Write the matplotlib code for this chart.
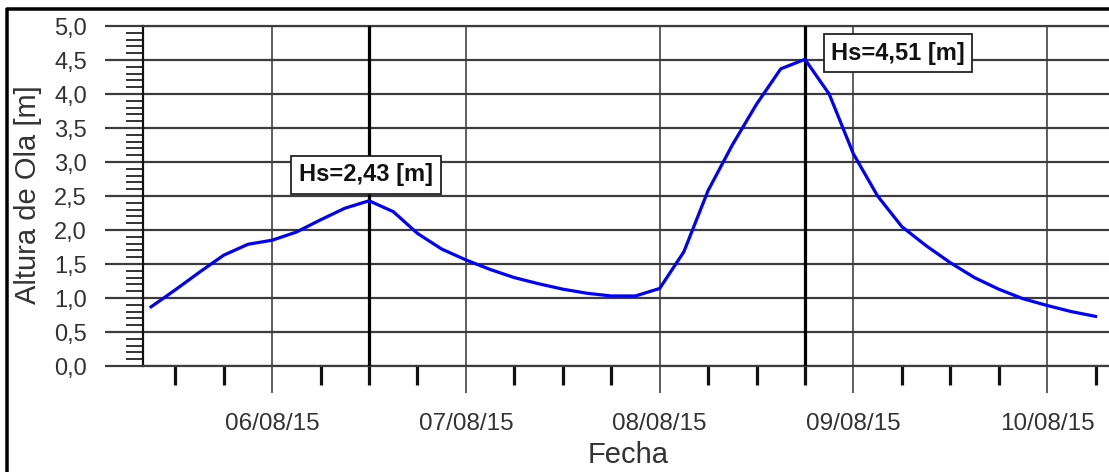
import numpy as np
import pandas as pd
import matplotlib
matplotlib.use("Agg")
import matplotlib.pyplot as plt
import matplotlib.dates as mdates
from matplotlib.lines import Line2D
from matplotlib.ticker import MultipleLocator, FuncFormatter

plt.rcParams['font.family'] = ['Liberation Sans', 'DejaVu Sans']

# ---- data ----
start_time = "2015-08-05 09:00"
step = "3h"
hs_values = [0.87, 1.12, 1.38, 1.63, 1.79, 1.85, 1.97, 2.15, 2.32, 2.43,
             2.27, 1.95, 1.72, 1.56, 1.42, 1.30, 1.21, 1.13, 1.07, 1.03,
             1.03, 1.14, 1.68, 2.58, 3.25, 3.85, 4.37, 4.51, 4.00, 3.12,
             2.50, 2.05, 1.77, 1.52, 1.30, 1.13, 0.99, 0.89, 0.80, 0.73]
peak_labels = ["Hs=2,43 [m]", "Hs=4,51 [m]"]
x_range = ["2015-08-05 08:00", "2015-08-10 07:40"]
y_ticks = [0.0, 0.5, 1.0, 1.5, 2.0, 2.5, 3.0, 3.5, 4.0, 4.5, 5.0]
x_label = "Fecha"
y_label = "Altura de Ola [m]"

times = pd.date_range(start=start_time, periods=len(hs_values), freq=step)
vals = np.array(hs_values)

W, H = 1109, 472
fig = plt.figure(figsize=(W / 100, H / 100), dpi=100)
px = lambda p: p * 72 / 100  # pixels -> points

ax_left, ax_right, ax_top, ax_bot = 143, 1109, 26, 366
ax = fig.add_axes([ax_left / W, 1 - ax_bot / H, (ax_right - ax_left) / W, (ax_bot - ax_top) / H])

grid_col = '#3c3c3c'
text_col = '#333333'

ax.plot(times, vals, color='#0000ff', lw=px(3.2), zorder=5, solid_joinstyle='round')

ax.set_xlim(pd.Timestamp(x_range[0]), pd.Timestamp(x_range[1]))
ax.set_ylim(y_ticks[0], y_ticks[-1])

# y axis
ax.set_yticks(y_ticks)
ax.yaxis.set_minor_locator(MultipleLocator(0.1))
ax.yaxis.set_major_formatter(FuncFormatter(lambda v, p: f"{v:.1f}".replace('.', ',')))
ax.tick_params(axis='y', which='major', length=px(38), width=px(2.2), color=grid_col,
               pad=px(18), labelsize=17, labelcolor=text_col)
ax.tick_params(axis='y', which='minor', length=px(17), width=px(1.8), color='#222222')

# x axis
ax.xaxis.set_major_locator(mdates.DayLocator())
ax.xaxis.set_major_formatter(mdates.DateFormatter('%d/%m/%y'))
ax.xaxis.set_minor_locator(mdates.HourLocator(byhour=[0, 6, 12, 18]))
ax.tick_params(axis='x', which='major', length=px(27), width=px(1.6), color=grid_col,
               pad=px(20), labelsize=17.5, labelcolor=text_col)
ax.tick_params(axis='x', which='minor', length=px(19), width=px(3.2), color='#111111')

# grid
ax.grid(True, axis='y', which='major', color=grid_col, lw=px(2.2), zorder=1)
ax.grid(True, axis='x', which='major', color=grid_col, lw=px(1.6), zorder=1)
ax.set_axisbelow(True)

ax.spines['right'].set_visible(False)
ax.spines['top'].set_color(grid_col)
ax.spines['top'].set_linewidth(px(2.2))
ax.spines['bottom'].set_color(grid_col)
ax.spines['bottom'].set_linewidth(px(2.2))
ax.spines['left'].set_color('#111111')
ax.spines['left'].set_linewidth(px(2.2))

# labels
ax.set_xlabel(x_label, fontsize=21, color=text_col)
ax.xaxis.set_label_coords((628 - ax_left) / (ax_right - ax_left), (ax_bot - 455) / (ax_bot - ax_top))
ax.xaxis.label.set_va('center')
ax.set_ylabel(y_label, fontsize=21, color=text_col)
ax.yaxis.set_label_coords((28 - ax_left) / (ax_right - ax_left), (ax_bot - 195) / (ax_bot - ax_top))
ax.yaxis.label.set_va('center')

# peaks
half = len(vals) // 2
i1 = int(np.argmax(vals[:half]))
i2 = half + int(np.argmax(vals[half:]))
offsets = [(-3, 26), (93, 6)]
for idx, lab, (dx, dy) in zip([i1, i2], peak_labels, offsets):
    ax.axvline(times[idx], color='black', lw=px(3.2), zorder=3)
    ax.annotate(lab, xy=(times[idx], vals[idx]), xytext=(px(dx), px(dy)),
                textcoords='offset points', ha='center', va='center', fontsize=17,
                fontweight='bold', color='#111111', zorder=10,
                bbox=dict(boxstyle='square,pad=0.32', fc='white', ec='#222222', lw=px(1.8)))

# outer frame
fig.add_artist(Line2D([7 / W, 7 / W, 1], [0, 1 - 9 / H, 1 - 9 / H], transform=fig.transFigure,
                      color='black', lw=px(3.5), solid_capstyle='projecting'))

fig.savefig('out.png', dpi=100)
